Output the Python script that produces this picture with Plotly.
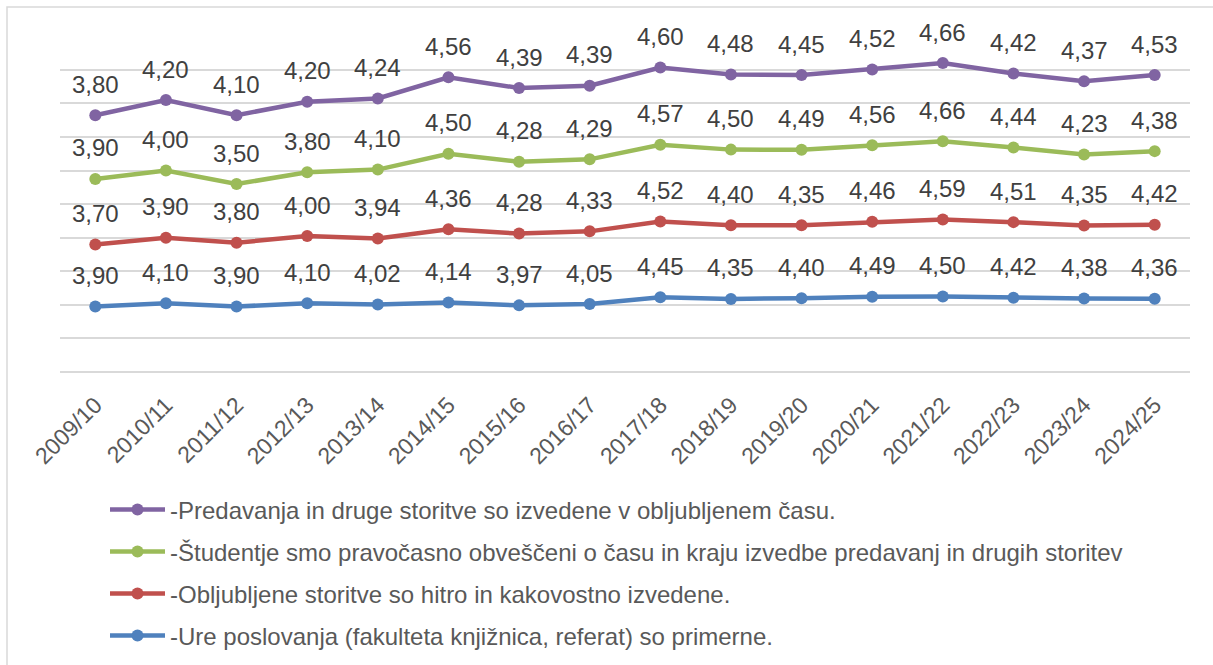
import numpy as np
import plotly.graph_objects as go

years = ["2009/10", "2010/11", "2011/12", "2012/13", "2013/14", "2014/15", "2015/16", "2016/17",
         "2017/18", "2018/19", "2019/20", "2020/21", "2021/22", "2022/23", "2023/24", "2024/25"]

ure = [3.90, 4.10, 3.90, 4.10, 4.02, 4.14, 3.97, 4.05, 4.45, 4.35, 4.40, 4.49, 4.50, 4.42, 4.38, 4.36]
obljubljene = [3.70, 3.90, 3.80, 4.00, 3.94, 4.36, 4.28, 4.33, 4.52, 4.40, 4.35, 4.46, 4.59, 4.51, 4.35, 4.42]
studentje = [3.90, 4.00, 3.50, 3.80, 4.10, 4.50, 4.28, 4.29, 4.57, 4.50, 4.49, 4.56, 4.66, 4.44, 4.23, 4.38]
predavanja = [3.80, 4.20, 4.10, 4.20, 4.24, 4.56, 4.39, 4.39, 4.60, 4.48, 4.45, 4.52, 4.66, 4.42, 4.37, 4.53]

names = [
    "-Ure poslovanja (fakulteta knjižnica, referat) so primerne.",
    "-Obljubljene storitve so hitro in kakovostno izvedene.",
    "-Študentje smo pravočasno obveščeni o času in kraju izvedbe predavanj in drugih storitev",
    "-Predavanja in druge storitve so izvedene v obljubljenem času.",
]
series = [ure, obljubljene, studentje, predavanja]
colors = ["#4F81BD", "#C0504D", "#9BBB59", "#8064A2"]
legend_ids = ["legend4", "legend3", "legend2", "legend"]

FONT = "Liberation Sans, Arial, sans-serif"
W, H = 1213, 665
L, R, T, B = 60, 23, 36, 293
PH = H - T - B  # plot height in px
PW = W - L - R


def py(p):
    """page pixel y -> paper fraction"""
    return (H - B - p) / PH


def px(p):
    return (p - L) / PW


fig = go.Figure()
cum = np.zeros(len(years))
annotations = []
for i, (name, vals, col, lid) in enumerate(zip(names, series, colors, legend_ids)):
    cum = cum + np.array(vals)
    fig.add_trace(go.Scatter(
        x=years, y=cum, name=name, mode="lines+markers",
        line=dict(color=col, width=4.5), marker=dict(color=col, size=12),
        legend=lid, showlegend=True,
    ))
    for x, yv, v in zip(years, cum, vals):
        annotations.append(dict(
            x=x, y=yv, text=f"{v:.2f}".replace(".", ","), showarrow=False,
            yshift=31, xanchor="center", yanchor="middle",
            font=dict(family=FONT, size=24, color="#404040"),
        ))

legend_rows = {"legend": 510, "legend2": 552, "legend3": 594, "legend4": 636}
legend_style = dict(
    orientation="v", x=px(105), xanchor="left", xref="paper",
    yref="container", yanchor="middle",
    font=dict(family=FONT, size=24, color="#595959"),
    itemwidth=55, bgcolor="rgba(0,0,0,0)",
)
legends = {k: dict(legend_style, y=1 - v / H) for k, v in legend_rows.items()}

fig.update_layout(
    width=W, height=H, showlegend=True,
    margin=dict(l=L, r=R, t=T, b=B),
    paper_bgcolor="white", plot_bgcolor="white",
    font=dict(family=FONT, color="#595959"),
    annotations=annotations,
    xaxis=dict(
        range=[-0.5, 15.5], showgrid=False, showline=False, zeroline=False,
        tickangle=-45, tickfont=dict(family=FONT, size=23, color="#595959"),
        ticks="", ticklabelstandoff=14, fixedrange=True,
    ),
    yaxis=dict(
        range=[0, 20.02], dtick=2, showgrid=True, gridcolor="#D9D9D9", gridwidth=1.5,
        zeroline=True, zerolinecolor="#D9D9D9", zerolinewidth=1.5,
        showticklabels=False, ticks="", fixedrange=True,
    ),
    shapes=[dict(
        type="path", xref="paper", yref="paper",
        path=f"M {px(7)},{py(700)} L {px(7)},{py(7)} L {px(1260)},{py(7)}",
        line=dict(color="#D9D9D9", width=1.5), layer="below",
    )],
    **legends,
)

fig.write_html("out.html", config={"displayModeBar": False},
               post_script="document.body.style.margin='0';")
